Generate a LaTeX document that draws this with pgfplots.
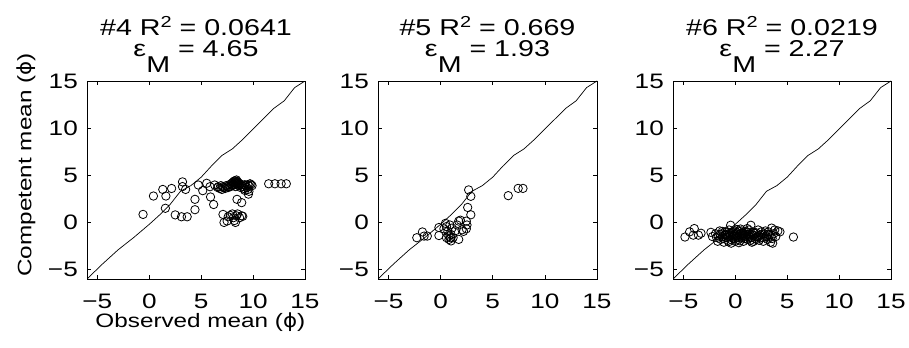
\documentclass[border=0pt]{standalone}
\usepackage{fontspec}
\setmainfont{Liberation Sans}[FakeStretch=1.25]
\newfontfamily\phifont{DejaVu Sans}[FakeStretch=1.1]
\usepackage{pgfplots}
\pgfplotsset{compat=1.18}
\newcommand\tl[1]{{\fontsize{21}{21}\selectfont #1}}
\newcommand\mysub[1]{\raisebox{-16bp}{#1}}
\newcommand\mysup[1]{\raisebox{8.5bp}{\fontsize{16}{16}\selectfont #1}}
\newcommand\mytitle[2]{{\fontsize{23}{17}\selectfont\begin{tabular}{@{}c@{}}#1\\#2\end{tabular}}}
\pgfplotsset{
 panel/.style={
  scale only axis, width=218bp, height=198bp,
  xmin=-6,xmax=15,ymin=-6,ymax=15,
  xtick={-5,0,5,10,15}, ytick={-5,0,5,10,15},
  xticklabels={\tl{−5},\tl{0},\tl{5},\tl{10},\tl{15}},
  yticklabels={\tl{−5},\tl{0},\tl{5},\tl{10},\tl{15}},
  tick align=inside, major tick length=4bp,
  tick style={black, line width=0.6bp},
  axis line style={black,line width=0.8bp},
  xticklabel style={anchor=north, inner sep=0pt, yshift=-15bp},
  yticklabel style={anchor=east, inner sep=0pt, xshift=-9bp},
  title style={inner sep=0pt, anchor=south, yshift=2bp},
  anchor=south west,
 },
 sc/.style={only marks, mark=o, mark size=4.2bp, mark options={line width=0.8bp}, black},
 dl/.style={black, line width=0.7bp, no marks},
}
\newcommand\diag{\addplot[dl] coordinates {(-6,-6) (-4.5,-4.4) (-3,-2.9) (-1.5,-1.6) (0,-0.2) (1,0.8) (2,1.9) (3,3.3) (4,3.9) (5,4.8) (6,6.0) (7,7.1) (8,7.8) (9,8.8) (10,9.9) (11,11.0) (12,12.1) (13,12.9) (14,14.3) (15,15)};}
\begin{document}
\begin{tikzpicture}
\useasboundingbox (0,0) rectangle (909bp,348bp);
% Panel #4
\begin{axis}[panel, at={(87bp,69bp)},
  title={\mytitle{\#4 R\mysup{2} = 0.0641}{ε\mysub{M} = 4.65}},
  xlabel={\fontsize{19.5}{20}\selectfont Observed mean ({\phifont ϕ})},
  ylabel={\fontsize{19.5}{20}\selectfont Competent mean ({\phifont ϕ})},
  xlabel style={at={(axis description cs:0.52,-0.22)},anchor=center},
  ylabel style={at={(axis description cs:-0.28,0.576)},anchor=center}]
\diag
\addplot[sc] coordinates {
(-0.6,0.85) (0.4,2.8) (1.3,3.5) (1.6,2.8) (1.55,1.5) (2.15,3.6) (2.5,0.8) (3.1,0.6) (3.65,0.6)
(3.2,4.3) (3.2,3.8) (3.5,3.5) (4.4,2.45) (4.4,1.35) (4.72,3.97) (5.15,3.37) (5.53,4.15) (5.85,3.79)
(5.9,2.7) (6.2,1.9) (6.3,3.97) (6.65,3.79)
(6.6,3.7) (6.8,3.6) (6.9,3.9) (7.0,3.5) (7.1,3.8) (7.2,3.7) (7.3,3.6) (7.4,3.9) (7.5,3.8) (7.6,3.7)
(7.7,4.0) (7.8,3.8) (7.9,4.1) (8.0,3.9) (8.0,4.2) (8.1,4.3) (8.2,4.0) (8.2,4.4) (8.3,4.1) (8.3,3.8)
(8.4,4.2) (8.4,4.5) (8.5,4.0) (8.5,4.3) (8.6,3.9) (8.6,4.2) (8.7,4.1) (8.8,3.7) (8.9,4.0) (9.0,3.8)
(9.1,3.6) (9.2,4.0) (9.3,3.9) (9.4,3.7) (9.5,3.5) (9.5,4.0) (9.6,3.3) (9.7,4.1) (9.8,4.0) (9.9,3.9)
(9.6,3.9) (9.2,3.4) (8.1,4.0) (8.3,4.4) (8.5,4.1) (8.7,3.9) (8.25,4.25) (8.45,4.35)
(7.1,0.85) (7.2,0.0) (7.5,0.15) (7.6,0.6) (7.8,0.75) (8.0,0.9) (8.1,0.5) (8.2,0.2) (8.3,0.0) (8.4,0.7)
(8.5,0.9) (8.7,0.5) (8.9,0.7) (9.0,0.65)
(8.45,2.45) (8.9,2.1) (9.55,3.0)
(11.5,4.1) (12.1,4.1) (12.7,4.1) (13.2,4.1)
};
\end{axis}
% Panel #5
\begin{axis}[panel, at={(378bp,69bp)}, width=219bp,
  title={\mytitle{\#5 R\mysup{2} = 0.669}{ε\mysub{M} = 1.93}}]
\diag
\addplot[sc] coordinates {
(-2.28,-1.62) (-1.74,-1.01) (-1.58,-1.45) (-1.27,-1.45) (-0.16,-0.54) (-0.16,-1.39) (0.32,-0.68)
(0.57,-0.44) (0.7,-0.95) (0.79,-1.45) (0.89,-0.27) (0.95,-1.62) (1.0,-1.28) (1.1,-0.6) (1.2,-1.62)
(0.8,-1.8) (0.57,-1.62) (1.74,-1.8) (1.58,-0.27) (1.74,0.14) (1.9,0.24) (2.06,-0.78) (2.2,-0.95)
(2.47,-0.68) (2.53,-0.27) (2.47,0.14) (2.6,1.59) (2.9,0.81) (2.69,3.45) (2.9,2.77)
(6.49,2.84) (7.44,3.61) (7.9,3.61) (0.47,-0.1) (1.42,-0.88) (1.0,-1.96)
};
\end{axis}
% Panel #6
\begin{axis}[panel, at={(673bp,69bp)},
  title={\mytitle{\#6 R\mysup{2} = 0.0219}{ε\mysub{M} = 2.27}}]
\diag
\addplot[sc] coordinates {
(-4.85,-1.55) (-4.4,-1.0) (-4.05,-1.35) (-3.95,-0.65) (-3.55,-1.35) (-3.3,-1.15) (-2.35,-1.05) (-2.2,-1.5) (5.6,-1.55)
(-1.9,-1.2) (-1.8,-1.6) (-1.7,-2.0) (-1.6,-1.4) (-1.5,-0.9) (-1.4,-1.8) (-1.3,-1.2) (-1.2,-1.5) (-1.1,-2.1)
(-1.0,-1.0) (-0.9,-1.6) (-0.8,-1.3) (-0.7,-1.9) (-0.6,-0.8) (-0.5,-1.4) (-0.45,-0.3) (-0.4,-2.2) (-0.3,-1.1)
(-0.2,-1.7) (-0.1,-1.3) (0.0,-0.9) (0.0,-2.0) (0.1,-1.5) (0.2,-1.1) (0.3,-1.8) (0.4,-1.3) (0.5,-0.7)
(0.6,-1.6) (0.7,-1.2) (0.8,-2.0) (0.9,-1.0) (1.0,-1.5) (1.1,-1.3) (1.2,-1.8) (1.3,-0.8) (1.4,-1.2)
(1.5,-0.3) (1.5,-1.6) (1.6,-2.1) (1.7,-1.0) (1.8,-1.4) (1.9,-1.7) (2.0,-1.1) (2.1,-1.5) (2.2,-0.8)
(2.3,-1.9) (2.4,-1.3) (2.5,-1.0) (2.6,-1.6) (2.7,-2.0) (2.8,-1.2) (2.9,-0.9) (3.0,-1.5) (3.1,-1.8)
(3.2,-1.0) (3.3,-1.3) (3.4,-2.1) (3.5,-0.6) (3.55,-1.7) (3.6,-2.2) (3.7,-1.2) (3.8,-0.8) (3.9,-1.5)
(4.1,-0.9) (4.3,-1.0)
(-1.0,-1.3) (-0.6,-1.5) (-0.2,-1.0) (0.2,-1.4) (0.5,-1.2) (0.8,-1.4) (1.1,-1.0) (1.3,-1.5) (0.3,-0.9)
(-0.8,-1.0) (0.9,-1.7) (0.6,-0.9) (-0.3,-1.6)
(-1.45,-1.25) (-1.15,-1.7) (-0.95,-1.35) (-0.75,-1.6) (-0.55,-1.15) (-0.35,-1.85) (-0.15,-1.45) (0.05,-1.2)
(0.25,-1.6) (0.45,-1.95) (0.65,-1.35) (0.85,-1.15) (1.05,-1.75) (1.25,-1.25) (1.45,-1.9) (1.65,-1.3)
(1.85,-1.15) (2.05,-1.8) (2.25,-1.4) (2.45,-1.65) (2.65,-1.25) (-0.65,-2.05) (0.15,-0.75) (1.15,-0.65)
(2.85,-1.55) (3.15,-1.25) (3.45,-1.55) (-1.25,-0.95) (0.35,-2.15) (1.75,-2.0)
};
\end{axis}
\end{tikzpicture}
\end{document}
